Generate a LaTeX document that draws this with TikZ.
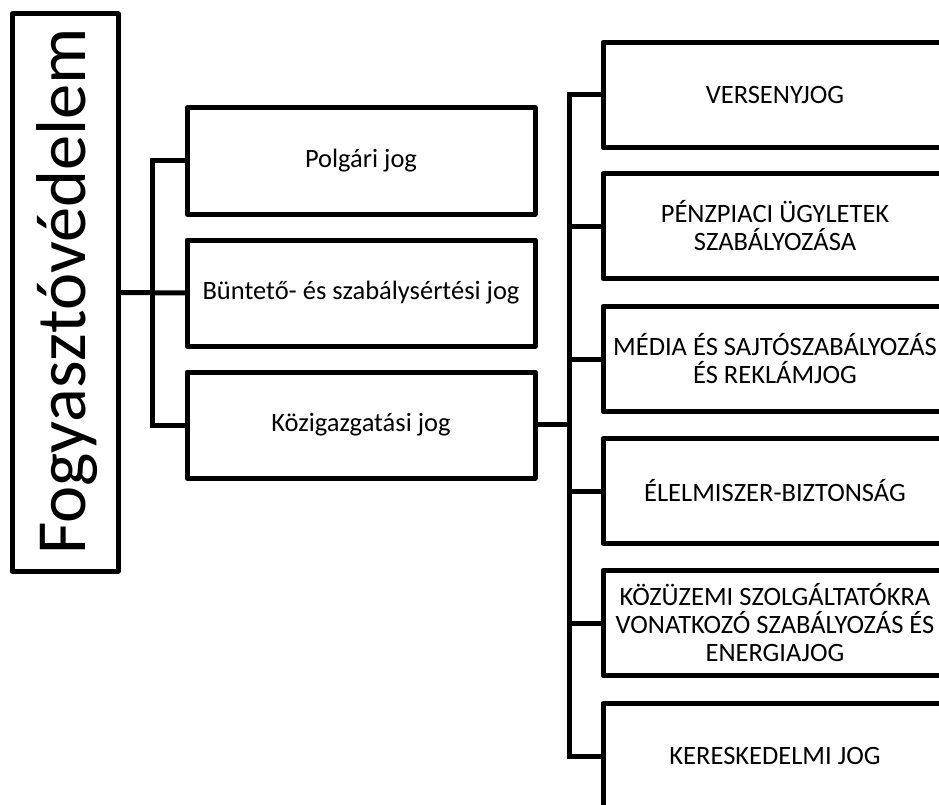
\documentclass[tikz,border=0pt]{standalone}
\usepackage{fontspec}
\setmainfont{Carlito}
\begin{document}
\begin{tikzpicture}[x=1pt,y=-1pt,
  box/.style={draw, rectangle, line width=5pt, inner sep=0pt, outer sep=0pt, line join=round},
  lbl/.style={font=\fontsize{26.5}{28}\selectfont, align=center},
  lvlone/.style={box, lbl, minimum width=348pt, minimum height=106pt},
  lvltwo/.style={box, lbl, minimum width=344pt, minimum height=105pt},
  conn/.style={line width=5pt}]
\useasboundingbox (0,0) rectangle (939,805);
\clip (0,0) rectangle (939,805);
% root
\node[box, minimum width=106pt, minimum height=557pt] (main) at (65,292.5) {};
\node[rotate=90, anchor=base, inner sep=0pt, font=\fontsize{70.5}{72}\selectfont] (maintext) at (85,291.5) {Fogyasztóvédelem};
% level one
\node[lvlone] (l1) at (361,161) {Polgári jog};
\node[lvlone] (l2) at (361,293) {Büntető- és szabálysértési jog};
\node[lvlone] (l3) at (361,425) {Közigazgatási jog};
% level two
\node[lvltwo] (r1) at (775,95) {VERSENYJOG};
\node[lvltwo] (r2) at (775,226) {PÉNZPIACI ÜGYLETEK\\SZABÁLYOZÁSA};
\node[lvltwo] (r3) at (775,359) {MÉDIA ÉS SAJTÓSZABÁLYOZÁS\\ÉS REKLÁMJOG};
\node[lvltwo] (r4) at (775,491) {ÉLELMISZER-BIZTONSÁG};
\node[lvltwo] (r5) at (775,623) {KÖZÜZEMI SZOLGÁLTATÓKRA\\VONATKOZÓ SZABÁLYOZÁS ÉS\\ENERGIAJOG};
\node[lvltwo] (r6) at (775,756) {KERESKEDELMI JOG};
% connectors
\coordinate (t1) at (152,293);
\coordinate (t2) at (569,424);
\draw[conn] (main.east) -- (l2.west);
\draw[conn] (l1.west) -| (t1) |- (l3.west);
\draw[conn] (l3.east |- t2) -- (t2);
\draw[conn] (r1.west) -| (t2) |- (r6.west);
\draw[conn] (r2.west) -- (r2.west -| t2);
\draw[conn] (r3.west) -- (r3.west -| t2);
\draw[conn] (r4.west) -- (r4.west -| t2);
\draw[conn] (r5.west) -- (r5.west -| t2);
\end{tikzpicture}
\end{document}
